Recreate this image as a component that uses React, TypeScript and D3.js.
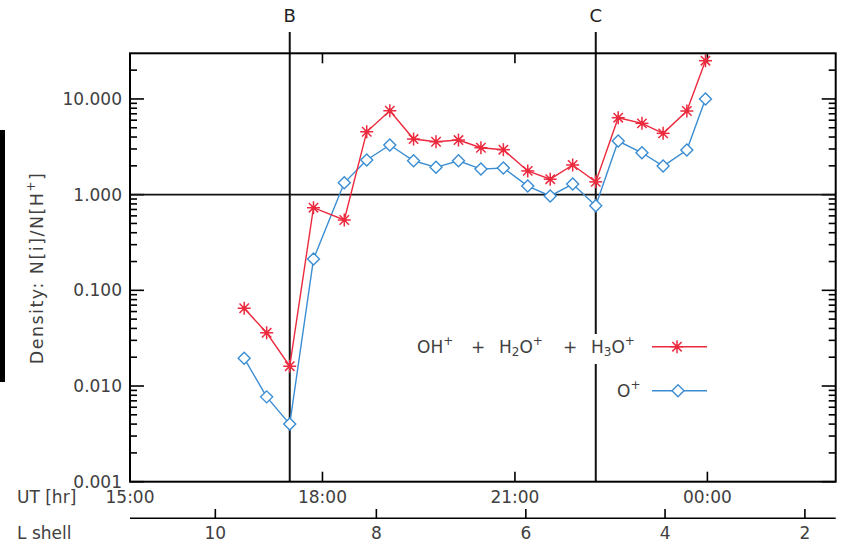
import React from "react";
import * as d3 from "d3";

// UT in decimal hours (24+ = after midnight)
const utRed = [16.78, 17.13, 17.49, 17.86, 18.34, 18.69, 19.05, 19.42, 19.77, 20.12, 20.47, 20.82, 21.2, 21.55, 21.9, 22.26, 22.61, 22.98, 23.31, 23.68, 23.97];
const molecularIons = [0.065, 0.036, 0.0161, 0.73, 0.543, 4.54, 7.53, 3.81, 3.57, 3.72, 3.09, 2.95, 1.77, 1.45, 2.04, 1.36, 6.37, 5.56, 4.37, 7.48, 25.1];
const utBlue = [16.78, 17.13, 17.49, 17.86, 18.34, 18.69, 19.05, 19.42, 19.77, 20.12, 20.47, 20.82, 21.2, 21.55, 21.9, 22.26, 22.61, 22.98, 23.31, 23.68, 23.97];
const oxygenIons = [0.0195, 0.0077, 0.004, 0.212, 1.33, 2.3, 3.3, 2.26, 1.93, 2.26, 1.85, 1.9, 1.23, 0.97, 1.29, 0.766, 3.63, 2.74, 1.99, 2.92, 9.98];

const utTicks = [15, 18, 21, 24];
const utTickLabels = ["15:00", "18:00", "21:00", "00:00"];
const lShellLabels = ["10", "8", "6", "4", "2"];
const lShellUT = [16.33, 18.84, 21.17, 23.34, 25.52];
const yMajorTicks = [0.001, 0.01, 0.1, 1, 10];
const yMajorLabels = ["0.001", "0.010", "0.100", "1.000", "10.000"];
const eventLabels = ["B", "C"];
const eventUT = [17.49, 22.26];

const RED = "#ec2a3e";
const BLUE = "#3a8dd2";
const TXT = "#404040";
const FONT = "'DejaVu Sans', sans-serif";

const L = 130, R = 835.7, T = 53.3, B = 481.7;

function Star({ cx, cy }: { cx: number; cy: number }) {
  const r = 6.5;
  const d = r * 0.72;
  return (
    <g stroke={RED} strokeWidth={1.5}>
      <line x1={cx - r} y1={cy} x2={cx + r} y2={cy} />
      <line x1={cx} y1={cy - r} x2={cx} y2={cy + r} />
      <line x1={cx - d} y1={cy - d} x2={cx + d} y2={cy + d} />
      <line x1={cx - d} y1={cy + d} x2={cx + d} y2={cy - d} />
      <circle cx={cx} cy={cy} r={2.3} fill={RED} stroke="none" />
    </g>
  );
}

function Diamond({ cx, cy }: { cx: number; cy: number }) {
  const r = 6;
  return (
    <path
      d={`M${cx},${cy - r}L${cx + r},${cy}L${cx},${cy + r}L${cx - r},${cy}Z`}
      fill="white"
      stroke={BLUE}
      strokeWidth={1.4}
    />
  );
}

export default function App() {
  const x = d3.scaleLinear().domain([15, 26]).range([L, R]);
  const y = d3.scaleLog().domain([0.001, 30]).range([B, T]);

  const line = d3
    .line<[number, number]>()
    .x((d) => x(d[0]))
    .y((d) => y(d[1]));

  const redPts: [number, number][] = utRed.map((u, i) => [u, molecularIons[i]]);
  const bluePts: [number, number][] = utBlue.map((u, i) => [u, oxygenIons[i]]);

  const minor: number[] = [];
  for (let e = -3; e <= 1; e++) {
    for (let m = 2; m <= 9; m++) {
      const v = m * Math.pow(10, e);
      if (v < 30) minor.push(v);
    }
  }

  return (
    <svg width={843} height={545} style={{ position: "absolute", left: 0, top: 0, background: "white" }}>
      <rect x={0} y={0} width={843} height={545} fill="white" />
      {/* left black bar */}
      <rect x={0} y={130} width={5} height={252} fill="black" />

      {/* y-axis title */}
      <text
        transform={`translate(37,268) rotate(-90)`}
        textAnchor="middle"
        dominantBaseline="central"
        fontFamily={FONT}
        fontSize={17.5}
        letterSpacing={1.5}
        fill={TXT}
      >
        Density: N[i]/N[H
        <tspan dy={-6} fontSize={12}>+</tspan>
        <tspan dy={6}>]</tspan>
      </text>

      {/* y ticks */}
      {minor.map((v, i) => (
        <g key={"mn" + i} stroke="black" strokeWidth={1.6}>
          <line x1={L} x2={L + 7} y1={y(v)} y2={y(v)} />
          <line x1={R} x2={R - 7} y1={y(v)} y2={y(v)} />
        </g>
      ))}
      {yMajorTicks.map((v, i) => (
        <g key={"mj" + i}>
          <line x1={L} x2={L + 14} y1={y(v)} y2={y(v)} stroke="black" strokeWidth={1.6} />
          <line x1={R} x2={R - 14} y1={y(v)} y2={y(v)} stroke="black" strokeWidth={1.6} />
          <text
            x={122}
            y={y(v)}
            textAnchor="end"
            dominantBaseline="central"
            fontFamily={FONT}
            fontSize={17}
            fill={TXT}
          >
            {yMajorLabels[i]}
          </text>
        </g>
      ))}

      {/* x ticks */}
      {utTicks.map((u, i) => (
        <g key={"ut" + i}>
          {u > 15 && (
            <>
              <line x1={x(u)} x2={x(u)} y1={B} y2={B - 10} stroke="black" strokeWidth={1.6} />
              <line x1={x(u)} x2={x(u)} y1={T} y2={T + 10} stroke="black" strokeWidth={1.6} />
            </>
          )}
          <text x={x(u)} y={497} textAnchor="middle" dominantBaseline="central" fontFamily={FONT} fontSize={17} fill={TXT}>
            {utTickLabels[i]}
          </text>
        </g>
      ))}
      <text x={17} y={497} dominantBaseline="central" fontFamily={FONT} fontSize={17} fill={TXT}>
        UT [hr]
      </text>

      {/* L shell axis */}
      <line x1={L} x2={R} y1={518.3} y2={518.3} stroke="black" strokeWidth={1.6} />
      {lShellUT.map((u, i) => (
        <g key={"ls" + i}>
          <line x1={x(u)} x2={x(u)} y1={518.3} y2={509} stroke="black" strokeWidth={1.6} />
          <text x={x(u)} y={533} textAnchor="middle" dominantBaseline="central" fontFamily={FONT} fontSize={17} fill={TXT}>
            {lShellLabels[i]}
          </text>
        </g>
      ))}
      <text x={17} y={533} dominantBaseline="central" fontFamily={FONT} fontSize={17} fill={TXT}>
        L shell
      </text>

      {/* horizontal line at 1 */}
      <line x1={L} x2={R} y1={y(1)} y2={y(1)} stroke="#111" strokeWidth={1.8} />

      {/* event lines */}
      {eventUT.map((u, i) => (
        <g key={"ev" + i}>
          <line x1={x(u)} x2={x(u)} y1={32} y2={B} stroke="#111" strokeWidth={2} />
          <text x={x(u)} y={15} textAnchor="middle" dominantBaseline="central" fontFamily={FONT} fontSize={18} fill="#222">
            {eventLabels[i]}
          </text>
        </g>
      ))}

      {/* series */}
      <path d={line(bluePts) || ""} fill="none" stroke={BLUE} strokeWidth={1.4} />
      <path d={line(redPts) || ""} fill="none" stroke={RED} strokeWidth={1.4} />
      {bluePts.map((p, i) => (
        <Diamond key={"d" + i} cx={x(p[0])} cy={y(p[1])} />
      ))}
      {redPts.map((p, i) => (
        <Star key={"s" + i} cx={x(p[0])} cy={y(p[1])} />
      ))}

      {/* frame */}
      <rect x={L} y={T} width={R - L} height={B - T} fill="none" stroke="black" strokeWidth={2} />

      {/* legend */}
      <rect x={410} y={334} width={238} height={30} fill="white" />
      <g fontFamily={FONT} fontSize={17} fill={TXT}>
        <text x={417} y={347} dominantBaseline="central">
          OH<tspan dy={-6} fontSize={12}>+</tspan>
        </text>
        <text x={478} y={347} textAnchor="middle" dominantBaseline="central">+</text>
        <text x={499} y={347} dominantBaseline="central">
          H<tspan dy={5} fontSize={12}>2</tspan><tspan dy={-5}>O</tspan><tspan dy={-6} fontSize={12}>+</tspan>
        </text>
        <text x={570} y={347} textAnchor="middle" dominantBaseline="central">+</text>
        <text x={591} y={347} dominantBaseline="central">
          H<tspan dy={5} fontSize={12}>3</tspan><tspan dy={-5}>O</tspan><tspan dy={-6} fontSize={12}>+</tspan>
        </text>
        <text x={617} y={390.7} dominantBaseline="central">
          O<tspan dy={-6} fontSize={12}>+</tspan>
        </text>
      </g>
      <line x1={652} x2={707} y1={346.7} y2={346.7} stroke={RED} strokeWidth={1.4} />
      <Star cx={677} cy={346.7} />
      <line x1={652} x2={707} y1={390.7} y2={390.7} stroke={BLUE} strokeWidth={1.4} />
      <Diamond cx={678} cy={390.7} />
    </svg>
  );
}
